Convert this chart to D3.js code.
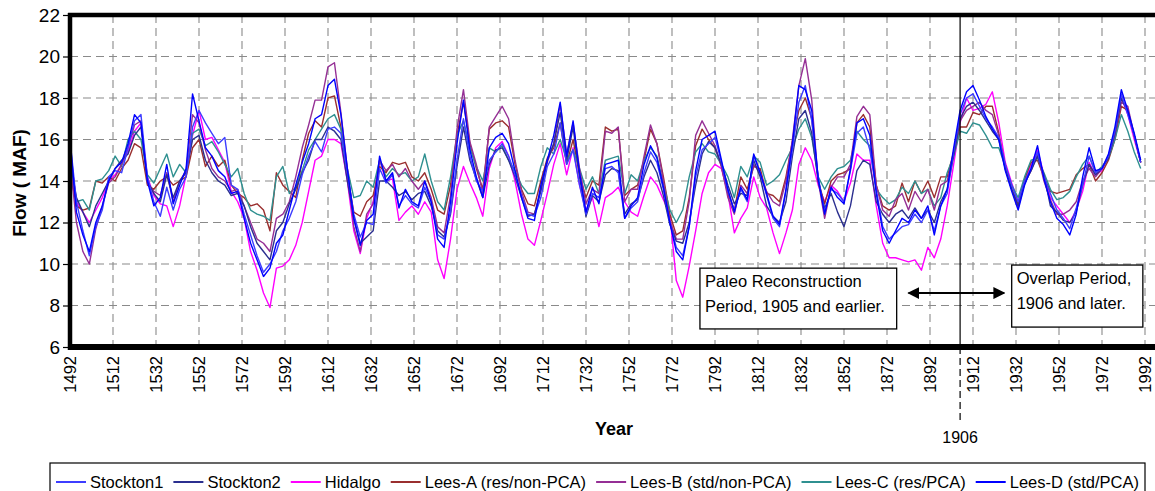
<!DOCTYPE html>
<html><head><meta charset="utf-8">
<script src="https://cdn.jsdelivr.net/npm/d3@7"></script>
<style>
body{margin:0;background:#fff}
svg{display:block;font-family:"Liberation Sans",Arial,Helvetica,sans-serif}
</style>
</head><body><svg id="c" width="1155" height="491"></svg>
<script>
// ---------------- DATA ----------------
const years = [
1492,1495,1498,1501,1504,1507,1510,1513,1516,1519,
1522,1525,1528,1531,1534,1537,1540,1543,1546,1549,
1552,1555,1558,1561,1564,1567,1570,1573,1576,1579,
1582,1585,1588,1591,1594,1597,1600,1603,1606,1609,
1612,1615,1618,1621,1624,1627,1630,1633,1636,1639,
1642,1645,1648,1651,1654,1657,1660,1663,1666,1669,
1672,1675,1678,1681,1684,1687,1690,1693,1696,1699,
1702,1705,1708,1711,1714,1717,1720,1723,1726,1729,
1732,1735,1738,1741,1744,1747,1750,1753,1756,1759,
1762,1765,1768,1771,1774,1777,1780,1783,1786,1789,
1792,1795,1798,1801,1804,1807,1810,1813,1816,1819,
1822,1825,1828,1831,1834,1837,1840,1843,1846,1849,
1852,1855,1858,1861,1864,1867,1870,1873,1876,1879,
1882,1885,1888,1891,1894,1897,1900,1903,1906,1909,
1912,1915,1918,1921,1924,1927,1930,1933,1936,1939,
1942,1945,1948,1951,1954,1957,1960,1963,1966,1969,
1972,1975,1978,1981,1984,1987,1990];

const stockton1 = [
16.0,13.0,11.6,10.4,11.8,12.6,14.2,14.5,14.4,15.6,
16.9,17.2,14.2,13.0,12.3,13.7,12.6,13.6,14.2,16.6,
17.4,16.8,16.3,15.8,16.1,13.8,13.6,12.4,11.4,10.4,
9.6,10.0,10.6,11.6,12.2,13.0,14.3,15.2,15.9,15.4,
16.5,16.6,16.3,14.4,12.4,11.3,12.0,11.9,14.6,13.9,
14.3,12.8,13.3,12.9,12.7,13.7,13.0,11.4,11.2,12.5,
15.0,17.0,15.2,14.0,13.5,15.0,15.4,15.8,15.2,14.3,
13.3,12.4,12.3,13.2,14.7,15.3,16.8,14.8,15.5,13.8,
12.4,13.4,13.2,14.6,14.7,14.4,12.2,12.7,13.0,14.4,
15.4,14.9,13.6,12.0,10.8,10.4,11.8,14.2,15.5,15.8,
16.1,14.9,13.5,12.6,13.6,13.0,15.2,14.4,13.3,12.2,
11.8,13.5,15.5,17.8,18.6,16.9,14.2,12.5,13.6,13.4,
13.0,14.5,16.3,16.6,15.5,13.6,11.8,11.2,11.5,11.8,
11.9,12.4,12.0,12.6,11.6,12.8,13.4,15.4,17.2,18.0,
18.2,17.6,17.0,16.6,16.1,14.8,13.8,13.0,14.0,14.6,
15.4,14.2,13.4,12.6,12.2,11.7,12.7,13.8,15.2,14.4,
14.6,15.2,16.4,18.2,17.2,16.2,14.9];

const stockton2 = [
15.0,13.2,12.5,11.8,12.8,13.4,14.0,14.6,15.0,15.3,
16.2,16.6,14.0,13.4,13.0,14.3,13.2,14.0,14.4,16.0,
16.2,15.0,14.4,14.0,13.8,13.3,13.4,12.8,11.8,11.0,
10.6,10.2,11.6,12.0,12.9,13.6,14.4,15.0,16.0,16.0,
16.6,16.4,16.0,14.0,12.2,11.0,11.3,11.6,14.0,14.0,
13.7,13.3,13.5,13.1,13.4,13.5,12.8,11.6,11.3,12.4,
14.7,16.6,15.0,14.1,13.2,14.8,15.5,15.6,15.0,14.2,
13.2,12.3,12.4,13.5,15.0,15.8,17.3,15.0,16.6,14.2,
12.3,13.3,13.0,14.3,14.6,14.5,12.4,12.9,13.1,14.2,
15.0,14.4,13.3,11.9,11.1,11.0,12.0,13.8,15.3,15.9,
15.6,14.8,13.8,12.9,13.4,13.3,15.0,14.2,12.8,12.3,
12.0,13.0,15.2,17.0,17.4,16.3,14.0,12.7,13.4,12.5,
11.8,12.8,14.5,15.0,14.8,13.0,12.4,12.0,12.4,12.6,
12.2,12.7,12.2,12.6,12.0,13.0,13.6,15.2,17.0,17.6,
17.8,17.4,16.9,16.4,16.0,14.6,13.6,12.8,13.9,14.5,
15.2,14.3,12.8,12.5,12.1,12.0,12.5,13.8,14.8,14.3,
14.6,15.1,16.3,18.0,17.3,16.2,14.9];

const hidalgo = [
15.5,13.0,12.5,12.0,12.6,13.2,14.0,14.3,14.8,15.4,
16.4,16.8,14.2,13.3,12.9,12.8,11.8,12.8,14.3,16.2,
17.4,16.0,16.1,15.5,14.9,13.5,13.0,12.2,10.6,9.7,
8.6,7.9,9.8,9.9,10.2,10.9,12.0,13.5,15.0,15.2,
16.0,16.0,15.8,14.0,11.6,10.5,12.2,13.0,15.0,14.0,
14.1,12.1,12.5,12.8,12.4,13.0,12.5,10.2,9.3,11.2,
13.6,14.7,13.9,13.2,12.3,14.6,15.6,15.9,15.2,14.0,
12.4,11.2,10.9,12.1,13.4,14.8,15.8,14.3,15.6,13.8,
12.6,13.2,11.8,13.2,13.4,13.7,13.0,12.5,12.3,13.3,
14.2,13.8,13.1,12.4,9.2,8.4,9.9,11.6,13.4,14.4,
14.8,14.6,13.4,11.5,12.2,12.7,14.2,13.2,12.7,11.5,
10.5,11.5,12.6,14.8,15.6,15.0,13.8,13.0,13.8,13.5,
13.0,13.9,15.3,15.0,15.0,12.8,11.0,10.3,10.3,10.2,
10.1,10.2,9.7,10.8,10.3,11.2,12.8,14.8,16.8,18.0,
17.4,17.5,17.7,18.3,16.8,14.9,13.9,13.0,14.0,14.8,
15.5,14.3,13.2,12.8,12.4,12.0,12.6,13.5,14.9,14.3,
14.5,15.2,16.3,18.0,17.2,16.0,14.9];

const leesA = [
14.5,12.8,12.6,12.7,14.0,13.9,14.2,14.0,14.6,15.0,
15.8,15.6,13.8,13.6,14.0,14.2,13.8,14.0,14.2,15.6,
16.0,14.7,15.2,14.7,15.0,13.8,13.4,13.2,12.8,12.9,
12.6,11.6,14.4,13.8,13.5,13.2,15.0,16.3,16.9,16.6,
18.0,18.1,16.6,14.3,12.5,12.3,13.0,13.3,14.7,14.4,
14.9,14.8,14.9,14.2,14.0,14.4,13.6,12.6,12.4,13.8,
16.2,17.8,15.8,14.6,13.6,16.5,16.8,16.9,16.6,14.8,
13.6,12.9,12.8,14.0,15.1,15.6,16.8,14.8,16.0,14.3,
13.2,14.0,13.8,16.6,16.4,16.5,13.3,13.6,13.8,15.0,
16.5,15.8,14.2,12.4,11.4,11.6,13.2,15.7,16.5,16.0,
15.6,14.7,13.4,12.6,14.2,13.6,14.7,14.6,13.4,13.3,
13.0,14.2,15.9,17.4,18.0,17.0,14.0,12.9,14.0,14.3,
14.4,14.6,16.8,17.2,16.6,13.8,12.8,12.6,12.8,13.9,
13.0,14.0,13.4,14.0,13.2,14.2,14.2,15.4,16.6,16.6,
17.3,17.2,17.6,17.6,16.3,14.6,13.6,12.9,14.1,14.9,
15.0,14.2,13.5,13.4,13.5,13.6,14.3,14.6,14.8,14.0,
14.4,15.0,16.0,17.6,17.4,16.2,14.9];

const leesB = [
15.0,12.0,10.6,10.0,11.7,12.8,13.9,14.2,14.8,15.6,
16.7,16.9,13.9,13.5,13.3,14.4,13.0,14.0,14.5,17.2,
16.8,15.5,14.6,14.2,14.0,13.5,13.6,12.8,12.0,11.2,
11.0,10.6,12.2,12.4,13.0,14.2,15.6,16.7,17.9,17.9,
19.5,19.7,17.3,14.6,11.8,10.6,12.4,12.9,15.0,14.5,
14.8,14.2,14.6,14.0,13.6,14.0,13.2,11.8,11.5,13.3,
16.5,18.4,15.9,14.8,13.4,16.6,17.1,17.6,17.0,15.0,
13.5,12.5,12.4,13.6,14.9,15.8,17.7,15.3,16.8,14.6,
12.9,13.6,13.4,16.4,16.3,16.6,13.0,13.6,13.6,15.2,
16.7,15.8,14.0,12.1,11.2,11.2,13.0,16.2,16.9,16.3,
15.7,14.7,13.2,12.4,13.8,13.4,14.8,14.4,13.5,13.0,
12.8,14.0,16.0,18.6,19.9,17.9,14.0,12.2,13.7,14.2,
14.2,14.8,17.1,17.6,17.2,13.8,12.6,12.3,13.1,13.4,
12.6,13.5,13.0,13.6,12.6,13.8,14.0,15.3,16.9,17.4,
17.6,17.8,17.4,17.2,16.2,14.8,13.6,12.7,13.9,14.5,
15.3,14.0,13.1,12.4,12.4,12.6,13.0,14.0,14.6,14.2,
14.6,15.2,16.2,17.8,17.6,16.2,14.9];

const leesC = [
15.2,13.0,13.1,12.6,14.0,14.1,14.5,15.2,14.7,16.0,
16.4,16.0,14.3,13.9,14.6,15.3,14.2,14.8,14.4,16.3,
16.5,15.7,15.9,15.4,14.8,14.2,14.6,13.4,12.6,12.4,
12.3,12.1,14.2,14.7,13.4,13.7,14.5,15.5,16.0,16.5,
17.0,17.2,16.5,14.6,13.2,13.3,14.0,13.7,15.0,14.2,
14.6,14.3,14.4,14.0,14.2,15.3,14.0,13.0,12.6,14.2,
16.2,16.9,15.6,14.7,14.0,15.6,15.4,15.7,15.0,14.5,
13.8,13.4,13.4,14.7,15.6,15.3,16.0,15.0,15.5,14.6,
13.6,14.2,13.4,15.0,15.1,15.2,13.4,14.3,14.0,15.0,
15.6,15.2,13.9,12.6,12.0,12.6,14.2,15.4,15.8,15.4,
15.3,14.8,14.2,13.2,14.7,14.2,15.2,14.9,13.8,14.0,
14.3,15.0,15.6,16.5,17.0,16.1,14.2,13.6,14.2,14.6,
14.7,15.0,16.4,16.0,15.7,13.6,13.2,12.9,13.1,13.7,
13.4,14.0,13.4,13.6,12.8,13.2,14.4,15.2,16.4,16.3,
16.8,16.7,16.2,15.6,15.6,14.7,13.8,13.2,14.2,15.0,
15.1,14.4,13.6,13.1,13.2,13.5,14.2,14.8,15.2,14.4,
14.7,15.1,16.0,17.2,16.4,15.4,14.6];

const leesD = [
16.0,12.5,11.4,10.6,12.0,12.8,14.0,14.6,14.9,15.8,
17.2,16.8,14.0,12.8,13.2,14.8,12.9,13.8,14.6,18.2,
16.9,15.6,15.2,14.5,14.2,13.4,13.5,12.2,11.0,10.2,
9.4,9.8,11.0,11.4,12.6,13.8,14.9,15.8,17.0,17.2,
18.6,18.9,17.2,14.6,12.2,10.9,12.1,12.4,15.2,14.0,
14.4,12.7,13.6,13.0,12.8,14.0,13.0,11.2,10.8,13.0,
15.8,17.9,15.5,14.2,13.2,15.6,16.1,16.3,15.8,14.5,
13.2,12.2,12.1,13.8,15.0,16.2,17.8,15.2,16.9,14.4,
12.5,13.7,12.9,14.8,14.9,15.0,12.2,12.8,13.2,14.8,
15.7,15.1,13.7,12.0,10.6,10.2,11.8,14.5,16.0,16.2,
16.4,15.0,13.6,12.5,13.7,13.1,15.3,14.4,13.4,12.3,
11.9,13.6,15.8,18.6,18.4,17.4,14.1,12.4,13.7,13.2,
12.9,14.6,16.8,17.0,16.2,13.4,11.6,11.0,11.6,12.2,
12.0,12.6,12.2,12.8,11.4,12.8,13.6,15.6,17.4,18.3,
18.6,17.9,17.1,16.5,16.0,14.5,13.5,12.6,13.8,14.6,
15.7,14.1,13.0,12.2,11.9,11.4,12.4,14.2,15.6,14.5,
14.6,15.3,16.6,18.4,17.4,16.3,15.0];

const seriesNames  = ["Stockton1","Stockton2","Hidalgo","Lees-A (res/non-PCA)","Lees-B (std/non-PCA)","Lees-C (res/PCA)","Lees-D (std/PCA)"];
const seriesValues = [stockton1, stockton2, hidalgo, leesA, leesB, leesC, leesD];
const yTicks = [6,8,10,12,14,16,18,20,22];
const xTicks = [1492,1512,1532,1552,1572,1592,1612,1632,1652,1672,1692,1712,1732,1752,1772,1792,1812,1832,1852,1872,1892,1912,1932,1952,1972,1992];
const splitYear = 1906;
const paleoText = ["Paleo Reconstruction","Period, 1905 and earlier."];
const overlapText = ["Overlap Period,","1906 and later."];

// ---------------- STYLE / LAYOUT ----------------
const colors = ["#3d3dff","#2b2f8f","#ff00ff","#9a2f2f","#952f95","#2f9090","#0000ff"];
const drawOrder = [2,3,5,4,1,0,6];
const L = 70, R = 1145, T = 15, B = 347;

const svg = d3.select("#c");
const x = d3.scaleLinear().domain([1492,1992]).range([L,R]);
const y = d3.scaleLinear().domain([6,22]).range([B,T]);

// gridlines
const grid = svg.append("g").attr("stroke","#8a8a8a").attr("stroke-width",1.1).attr("stroke-dasharray","8,5");
grid.selectAll("line.h").data(yTicks.filter(v=>v>6 && v<22)).join("line")
  .attr("x1",L).attr("x2",1160).attr("y1",d=>y(d)).attr("y2",d=>y(d));
grid.selectAll("line.v").data(xTicks.filter(v=>v>1492)).join("line")
  .attr("x1",d=>x(d)).attr("x2",d=>x(d)).attr("y1",T).attr("y2",B);

// lines
const line = d3.line().x((d,i)=>x(years[i])).y(d=>y(d));
const lg = svg.append("g").attr("fill","none").attr("stroke-width",1.4).attr("stroke-linejoin","round");
drawOrder.forEach(k=>{
  lg.append("path").attr("d",line(seriesValues[k])).attr("stroke",colors[k]);
});

// 1906 split line
svg.append("line").attr("x1",x(splitYear)).attr("x2",x(splitYear)).attr("y1",T).attr("y2",B)
  .attr("stroke","#000").attr("stroke-width",1.2);
svg.append("line").attr("x1",x(splitYear)).attr("x2",x(splitYear)).attr("y1",B).attr("y2",424)
  .attr("stroke","#000").attr("stroke-width",1.2).attr("stroke-dasharray","7,4");
svg.append("text").attr("x",x(splitYear)).attr("y",443).attr("text-anchor","middle")
  .attr("font-size",16).text(String(splitYear));

// frame
svg.append("line").attr("x1",L-2).attr("x2",1160).attr("y1",T).attr("y2",T).attr("stroke","#000").attr("stroke-width",4.5);
svg.append("line").attr("x1",L-2).attr("x2",1160).attr("y1",B).attr("y2",B).attr("stroke","#000").attr("stroke-width",6);
svg.append("line").attr("x1",L).attr("x2",L).attr("y1",T-2).attr("y2",B+3).attr("stroke","#000").attr("stroke-width",4.5);

// y axis
const ya = svg.append("g").attr("transform",`translate(${L-2},0)`)
  .call(d3.axisLeft(y).tickValues(yTicks).tickSize(5).tickPadding(3));
ya.select(".domain").remove();
ya.selectAll(".tick line").attr("stroke","#000").attr("stroke-width",1.2);
ya.selectAll("text").attr("font-size",19).attr("font-family","Liberation Sans, Arial, sans-serif").attr("fill","#000");

// x axis
const xa = svg.append("g").attr("transform",`translate(0,${B})`)
  .call(d3.axisBottom(x).tickValues(xTicks).tickSize(0).tickFormat(d3.format("d")));
xa.select(".domain").remove();
xa.selectAll("text").attr("font-size",16.5).attr("font-family","Liberation Sans, Arial, sans-serif").attr("fill","#000")
  .attr("transform","rotate(-90)").attr("x",-9).attr("y",0).attr("dy","0.36em").attr("text-anchor","end");

// axis titles
svg.append("text").attr("transform",`translate(26,${(T+B)/2+2}) rotate(-90)`).attr("text-anchor","middle")
  .attr("font-size",19).attr("font-weight","bold").text("Flow ( MAF)");
svg.append("text").attr("x",614).attr("y",435).attr("text-anchor","middle")
  .attr("font-size",18).attr("font-weight","bold").text("Year");

// annotation boxes
function box(x0,x1,v0,v1,lines){
  const g = svg.append("g");
  g.append("rect").attr("x",x(x0)).attr("y",y(v0)).attr("width",x(x1)-x(x0)).attr("height",y(v1)-y(v0))
    .attr("fill","#fff").attr("stroke","#000").attr("stroke-width",1.3);
  lines.forEach((t,i)=>g.append("text").attr("x",x(x0)+5).attr("y",y(v0)+19+i*25)
    .attr("font-size",16.5).text(t));
}
box(1785,1876.5,9.8,6.87,paleoText);
box(1930,1991,9.95,6.96,overlapText);

// double arrow
const defs = svg.append("defs");
defs.append("marker").attr("id","ah").attr("viewBox","0 0 10 10").attr("refX",9).attr("refY",5)
  .attr("markerWidth",6).attr("markerHeight",6).attr("orient","auto-start-reverse").attr("markerUnits","strokeWidth")
  .append("path").attr("d","M0,0 L10,5 L0,10 Z").attr("fill","#000");
svg.append("line").attr("x1",x(1882)).attr("x2",x(1926.5)).attr("y1",y(8.6)).attr("y2",y(8.6))
  .attr("stroke","#000").attr("stroke-width",2).attr("marker-start","url(#ah)").attr("marker-end","url(#ah)");

// legend
const leg = svg.append("g");
leg.append("rect").attr("x",50).attr("y",463).attr("width",1095).attr("height",40)
  .attr("fill","#fff").attr("stroke","#000").attr("stroke-width",1.2);
const items = seriesNames.map((n,i)=>{
  const g = leg.append("g");
  g.append("line").attr("x1",0).attr("x2",30).attr("y1",0).attr("y2",0).attr("stroke",colors[i]).attr("stroke-width",2);
  const t = g.append("text").attr("x",34).attr("y",0).attr("dy","0.35em").attr("font-size",16.5).text(n);
  return {g, w: 34 + t.node().getComputedTextLength()};
});
const startX = 56, endX = 1139;
const total = d3.sum(items,d=>d.w);
const gap = (endX-startX-total)/(items.length-1);
let cx = startX;
items.forEach(it=>{ it.g.attr("transform",`translate(${cx},482)`); cx += it.w + gap; });
</script>
</body></html>
